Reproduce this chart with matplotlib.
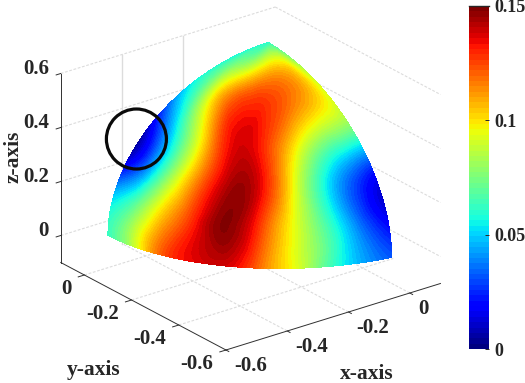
import numpy as np
import matplotlib
matplotlib.use('Agg')
import matplotlib.pyplot as plt
import matplotlib.tri as mtri
from matplotlib.cm import ScalarMappable
from matplotlib.colors import Normalize
from matplotlib.patches import Circle

plt.rcParams['font.family'] = ['Liberation Serif']
plt.rcParams['font.weight'] = 'bold'

# values: rows are elevation, columns azimuth on the patch
az_deg = [0, 10, 20, 30, 40, 50, 60, 70, 80, 90]
el_deg = [0, 15, 30, 45, 60, 75, 90]
field = [
    [.062, .085, .120, .135, .138, .118, .094, .065, .044, .032],
    [.050, .072, .105, .130, .148, .126, .094, .065, .036, .016],
    [.010, .040, .082, .118, .143, .135, .098, .060, .034, .018],
    [.018, .046, .080, .115, .137, .130, .108, .085, .072, .066],
    [.052, .070, .098, .118, .127, .128, .122, .113, .104, .092],
    [.058, .070, .078, .085, .094, .102, .106, .105, .098, .082],
    [.060, .060, .060, .060, .060, .060, .060, .060, .060, .060],
]
x_ticks = [-0.6, -0.4, -0.2, 0]
y_ticks = [-0.6, -0.4, -0.2, 0]
z_ticks = [0, 0.2, 0.4, 0.6]
x_labels = ['-0.6', '-0.4', '-0.2', '0']
y_labels = ['-0.6', '-0.4', '-0.2', '0']
z_labels = ['0', '0.2', '0.4', '0.6']
cbar_ticks = [0, 0.05, 0.1, 0.15]
cbar_labels = ['0', '0.05', '0.1', '0.15']

XMIN, XMAX, YMIN, YMAX, ZMIN, ZMAX = -0.6, 0.1, -0.6, 0.1, -0.1, 0.6
TXT = '#262626'


def project(x, y, z):
    # fixed orthographic view, returns figure pixels
    x, y, z = np.asarray(x), np.asarray(y), np.asarray(z)
    return (268.2 + 306.4 * x - 236 * y,
            218 - 95 * x - 125 * y - 270 * (z + 0.1))


def seg(ax, p0, p1, **kw):
    a, b = project(*p0), project(*p1)
    ax.plot([a[0], b[0]], [a[1], b[1]], **kw)


fig = plt.figure(figsize=(5.25, 3.83), dpi=100)
ax = fig.add_axes([0, 0, 1, 1])
ax.set_xlim(0, 525)
ax.set_ylim(383, 0)
ax.axis('off')

# grid on the box walls
g = dict(color='#dcdcdc', lw=0.8, ls=(0, (2.5, 1.5)), zorder=1)
for z in z_ticks:
    seg(ax, (XMIN, YMAX, z), (XMAX, YMAX, z), **g)
    seg(ax, (XMAX, YMAX, z), (XMAX, YMIN, z), **g)
z_top = max(z_ticks)
for x in x_ticks[1:3]:
    seg(ax, (x, YMAX, ZMIN), (x, YMAX, z_top), color='#dcdcdc', lw=1, zorder=1)
for x in x_ticks[1:]:
    seg(ax, (x, YMIN, ZMIN), (x, YMAX, ZMIN), **g)
for y in y_ticks[1:]:
    seg(ax, (XMIN, y, ZMIN), (XMAX, y, ZMIN), **g)

# surface, refined by matplotlib in angle space and then projected
az_g, el_g = np.meshgrid(az_deg, el_deg)
tri_ang = mtri.Triangulation(az_g.ravel().astype(float), el_g.ravel().astype(float))
refiner = mtri.UniformTriRefiner(tri_ang)
fine, vals = refiner.refine_field(np.array(field).ravel(), subdiv=4)
az_r, el_r = np.radians(fine.x), np.radians(fine.y)
R = 0.523
sx = -R * np.cos(el_r) * np.cos(az_r)
sy = -R * np.cos(el_r) * np.sin(az_r)
sz = 0.02 - 0.024 * (fine.x / 90) ** 4 * np.cos(el_r) + 0.53 * np.sin(el_r)
px, py = project(sx, sy, sz)
levels = np.linspace(0, 0.15, 65)
cmap = plt.get_cmap('jet', 64)
tri_scr = mtri.Triangulation(px, py, triangles=fine.triangles)
ax.tricontourf(tri_scr, vals, levels=levels, cmap=cmap, vmin=0, vmax=0.15,
               extend='both', zorder=2)

# axes lines
k = dict(color='#303030', lw=0.7, zorder=3)
seg(ax, (XMIN, YMAX, ZMIN), (XMIN, YMAX, z_top), **k)
seg(ax, (XMIN, YMIN, ZMIN), (XMIN, YMAX, ZMIN), **k)
seg(ax, (XMIN, YMIN, ZMIN), (XMAX, YMIN, ZMIN), **k)

# ticks and labels
for x, lab in zip(x_ticks, x_labels):
    seg(ax, (x, YMIN, ZMIN), (x, YMIN - 0.012, ZMIN), **k)
    a, b = project(x, YMIN, ZMIN)
    ax.text(a + 8, b + 16, lab, ha='left', va='center', fontsize=15, color=TXT)
for y, lab in zip(y_ticks, y_labels):
    seg(ax, (XMIN, y, ZMIN), (XMIN - 0.02, y, ZMIN), **k)
    a, b = project(XMIN, y, ZMIN)
    ax.text(a - 13, b + 14, lab, ha='right', va='center', fontsize=15, color=TXT)
for z, lab in zip(z_ticks, z_labels):
    seg(ax, (XMIN, YMAX, z), (XMIN - 0.015, YMAX, z), **k)
    a, b = project(XMIN, YMAX, z)
    ax.text(49, b - 4, lab, ha='right', va='center', fontsize=15, color=TXT)

ax.text(94, 370, 'y-axis', ha='center', va='center', fontsize=15.5, color=TXT)
ax.text(367, 374, 'x-axis', ha='center', va='center', fontsize=15.5, color=TXT)
ax.text(14, 157, 'z-axis', ha='center', va='center', rotation=90, fontsize=15.5, color=TXT)

ax.add_patch(Circle((136.4, 139), 30, fill=False, ec='#0a0a0a', lw=2.3, zorder=4))

# colorbar
cax = fig.add_axes([469 / 525, 1 - 349 / 383, 20 / 525, 343 / 383])
sm = ScalarMappable(norm=Normalize(0, 0.15), cmap=cmap)
cb = fig.colorbar(sm, cax=cax)
cb.set_ticks(cbar_ticks)
cb.set_ticklabels(cbar_labels)
cb.ax.tick_params(direction='in', length=3, width=0.7, pad=4, labelsize=13,
                  colors=TXT, right=True)
cb.outline.set_visible(False)
cax.plot([0, 1], [0.15, 0.15], transform=cax.get_yaxis_transform(), color=TXT, lw=1, clip_on=False)

fig.savefig('out.png', dpi=100)
